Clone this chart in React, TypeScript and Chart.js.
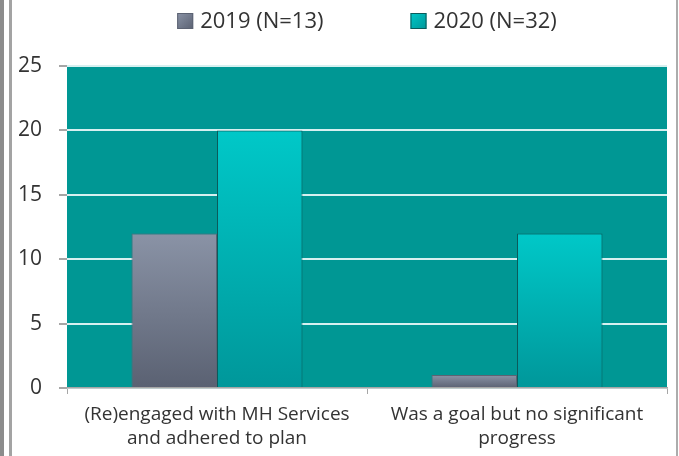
import React, { useEffect, useRef } from "react";
import { Chart, registerables } from "chart.js";

Chart.register(...registerables);

const categories: string[][] = [
  ["(Re)engaged with MH Services", "and adhered to plan"],
  ["Was a goal but no significant", "progress"],
];
const seriesNames: string[] = ["2019 (N=13)", "2020 (N=32)"];
const values2019: number[] = [12, 1];
const values2020: number[] = [20, 12];
const yTickValues: number[] = [0, 5, 10, 15, 20, 25];

const FONT = "'Open Sans', 'DejaVu Sans', sans-serif";
const TEXT = "#333333";

const palettes = [
  { top: "#8a93a6", bottom: "#5a6172", border: "#5c6373" },
  { top: "#00c8c8", bottom: "#00979a", border: "#0b5b5b" },
];

function barFill(ctx: any, idx: number) {
  const chart = ctx.chart;
  const p = palettes[idx];
  if (ctx.type !== "data" || !chart.chartArea || !chart.scales?.y) return p.bottom;
  const ys = chart.scales.y;
  const top = ys.getPixelForValue(ctx.raw);
  const bottom = ys.getPixelForValue(0);
  if (!isFinite(top) || !isFinite(bottom) || top === bottom) return p.bottom;
  const g = chart.ctx.createLinearGradient(0, top, 0, bottom);
  g.addColorStop(0, p.top);
  g.addColorStop(1, p.bottom);
  return g;
}

const plotBg = {
  id: "plotBg",
  beforeDraw(chart: any) {
    const { ctx, chartArea: a } = chart;
    if (!a) return;
    ctx.save();
    ctx.fillStyle = "#009794";
    ctx.fillRect(a.left, a.top, a.right - a.left, a.bottom - a.top);
    ctx.restore();
  },
};

const topLegend = {
  id: "topLegend",
  afterDraw(chart: any) {
    const { ctx, chartArea: a } = chart;
    if (!a) return;
    ctx.save();
    ctx.font = `22px ${FONT}`;
    const box = 16;
    const gapText = 7;
    const gapItems = 87;
    const widths = seriesNames.map((s) => box + gapText + ctx.measureText(s).width);
    const total = widths[0] + gapItems + widths[1];
    let x = (a.left + a.right) / 2 - total / 2;
    const cy = 21;
    seriesNames.forEach((name, i) => {
      const p = palettes[i];
      const g = ctx.createLinearGradient(x, cy - box / 2, x + box, cy + box / 2);
      g.addColorStop(0, p.top);
      g.addColorStop(1, p.bottom);
      ctx.fillStyle = g;
      ctx.fillRect(x, cy - box / 2, box, box);
      ctx.strokeStyle = p.border;
      ctx.lineWidth = 1;
      ctx.strokeRect(x + 0.5, cy - box / 2 + 0.5, box - 1, box - 1);
      ctx.fillStyle = TEXT;
      ctx.textBaseline = "middle";
      ctx.textAlign = "left";
      ctx.fillText(name, x + box + gapText, cy + 1);
      x += widths[i] + gapItems;
    });
    ctx.restore();
  },
};

export default function App() {
  const ref = useRef<HTMLCanvasElement>(null);

  useEffect(() => {
    const canvas = ref.current;
    if (!canvas) return;
    const chart = new Chart(canvas, {
      type: "bar",
      data: {
        labels: categories,
        datasets: [
          {
            label: seriesNames[0],
            data: values2019,
            backgroundColor: (c: any) => barFill(c, 0),
            borderColor: palettes[0].border,
            borderWidth: 1,
          },
          {
            label: seriesNames[1],
            data: values2020,
            backgroundColor: (c: any) => barFill(c, 1),
            borderColor: palettes[1].border,
            borderWidth: 1,
          },
        ],
      },
      options: {
        responsive: false,
        animation: false,
        devicePixelRatio: 1,
        layout: { padding: { top: 66, right: 12, left: 0, bottom: 0 } },
        datasets: { bar: { categoryPercentage: 0.57, barPercentage: 1 } },
        plugins: { legend: { display: false }, tooltip: { enabled: false } },
        scales: {
          x: {
            grid: { drawOnChartArea: false, tickLength: 6, tickColor: "#a6a6a6", offset: true },
            border: { color: "#a6a6a6", width: 1.5 },
            ticks: {
              padding: 9,
              color: TEXT,
              font: { family: FONT, size: 19, lineHeight: 1.25 },
              maxRotation: 0,
              autoSkip: false,
            },
            afterFit: (s: any) => {
              s.height = 68;
            },
          },
          y: {
            min: 0,
            max: 25,
            afterBuildTicks: (s: any) => {
              s.ticks = yTickValues.map((v) => ({ value: v }));
            },
            ticks: {
              stepSize: 5,
              padding: 17,
              color: TEXT,
              font: { family: FONT, size: 21 },
            },
            grid: { color: "#d6f0f0", lineWidth: 2, tickColor: "#a6a6a6", tickLength: 8 },
            border: { display: false },
            afterFit: (s: any) => {
              s.width = 67;
            },
          },
        },
      },
      plugins: [plotBg, topLegend],
    });
    return () => chart.destroy();
  }, []);

  return (
    <div style={{ position: "fixed", left: 0, top: 0, width: 679, height: 456, background: "#ffffff", overflow: "hidden" }}>
      <canvas ref={ref} width={679} height={456} style={{ display: "block", width: 679, height: 456 }} />
      <div style={{ position: "absolute", left: 0, top: 0, width: 4, height: 456, background: "#8c8c8c" }} />
      <div style={{ position: "absolute", left: 9, top: 0, width: 3, height: 456, background: "#a3a3a3" }} />
      <div style={{ position: "absolute", left: 676, top: 0, width: 2, height: 456, background: "#acacac" }} />
    </div>
  );
}
